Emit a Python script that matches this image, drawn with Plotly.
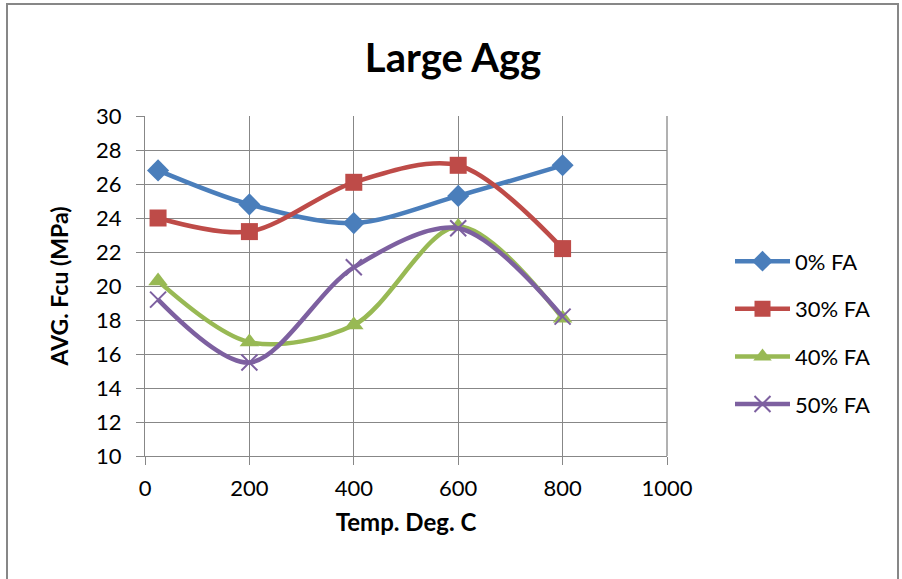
import plotly.graph_objects as go

temps = [25, 200, 400, 600, 800]
fa0 = [26.8, 24.8, 23.7, 25.3, 27.1]
fa30 = [24.0, 23.2, 26.1, 27.1, 22.2]
fa40 = [20.3, 16.7, 17.7, 23.5, 18.1]
fa50 = [19.2, 15.5, 21.1, 23.4, 18.2]
names = ["0% FA", "30% FA", "40% FA", "50% FA"]
colors = ["#4A7EBB", "#BE4B48", "#98B954", "#7D60A0"]
symbols = ["diamond", "square", "triangle-up", "x-thin"]
sizes = [17, 17, 17, 16]

FONT = "Lato"
fig = go.Figure()
for i, ys in enumerate([fa0, fa30, fa40, fa50]):
    marker = dict(symbol=symbols[i], size=sizes[i], color=colors[i])
    if symbols[i] == "x-thin":
        marker["line"] = dict(color=colors[i], width=2)
    fig.add_trace(go.Scatter(
        x=temps, y=ys, name=names[i], mode="lines+markers",
        line=dict(color=colors[i], width=4.5, shape="spline", smoothing=0.9),
        marker=marker, legendgroup=str(i)))

grid = "#878787"
fig.update_layout(
    width=902, height=579,
    margin=dict(l=145, r=235, t=116, b=123),
    paper_bgcolor="white", plot_bgcolor="white",
    font=dict(family=FONT, color="black", size=20),
    title=dict(text="<b>Large Agg</b>", x=(453 - 145) / 522, xref="paper", xanchor="center",
               y=1 - 58 / 579, yanchor="middle", font=dict(size=40, family=FONT)),
    xaxis=dict(range=[0, 1000], dtick=200, tick0=0, showgrid=True, gridcolor=grid,
               gridwidth=1.3, showline=True, linecolor=grid, linewidth=1.3,
               ticks="outside", ticklen=8, tickcolor=grid, zeroline=False,
               ticklabelstandoff=4,
               title=dict(text="<b>Temp. Deg. C</b>", font=dict(size=24), standoff=14),
               tickfont=dict(size=22)),
    yaxis=dict(range=[10, 30], dtick=2, showgrid=True, gridcolor=grid, gridwidth=1.3,
               showline=True, linecolor=grid, linewidth=1.3, ticks="outside",
               ticklen=8, tickcolor=grid, zeroline=False, ticklabelstandoff=10,
               title=dict(text="<b>AVG. Fcu (MPa)</b>", font=dict(size=23), standoff=20),
               tickfont=dict(size=22)),
    legend=dict(x=(730 - 145) / 522, xanchor="left", y=0.362, yanchor="middle",
                font=dict(size=22), tracegroupgap=16, itemwidth=55,
                bgcolor="rgba(0,0,0,0)"),
    showlegend=True,
)
fig.add_shape(type="rect", xref="paper", yref="paper",
              x0=(7 - 145) / 522, x1=(898 - 145) / 522,
              y0=(456 - 600) / 340, y1=(456 - 4) / 340,
              line=dict(color="#878787", width=2), layer="below")
fig.add_shape(type="line", xref="paper", yref="paper", x0=1, x1=1, y0=0, y1=1,
              line=dict(color=grid, width=1.3))
fig.write_html("out.html")
